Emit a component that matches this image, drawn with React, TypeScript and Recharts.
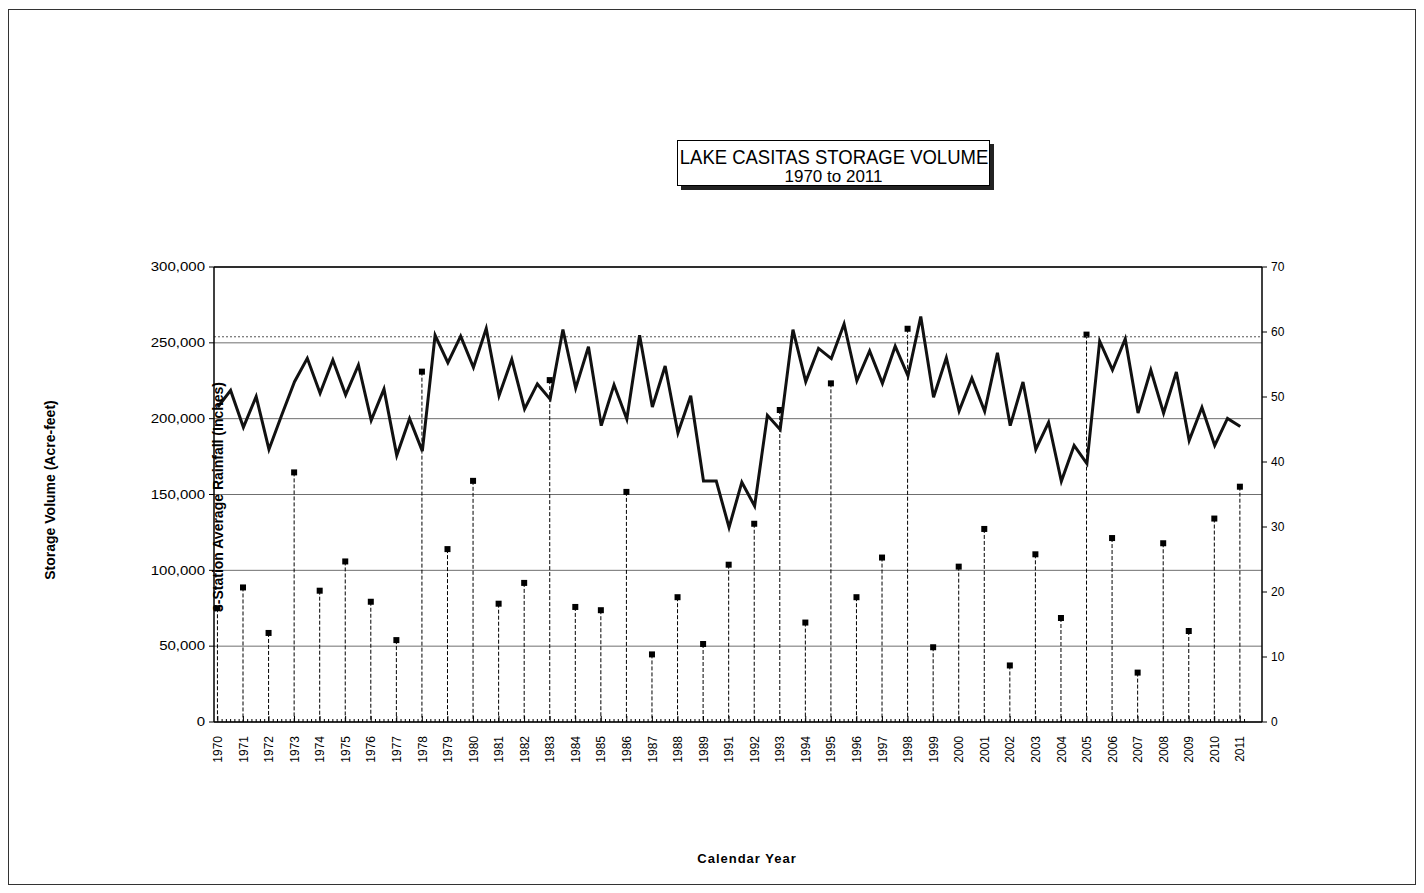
import React from "react";
import {
  ComposedChart,
  Line,
  Bar,
  XAxis,
  YAxis,
  CartesianGrid,
  ReferenceLine,
} from "recharts";

// category labels (1990 is missing on the original axis)
const years = [
  "1970", "1971", "1972", "1973", "1974", "1975", "1976", "1977", "1978", "1979",
  "1980", "1981", "1982", "1983", "1984", "1985", "1986", "1987", "1988", "1989",
  "1991", "1992", "1993", "1994", "1995", "1996", "1997", "1998", "1999", "2000",
  "2001", "2002", "2003", "2004", "2005", "2006", "2007", "2008", "2009", "2010",
  "2011",
];

// storage volume, acre-feet, two readings per year
const storage = [
  207700, 218600, 194300, 214600, 179700, 202400, 224400, 239800, 216800, 238700,
  215700, 235400, 198900, 219500, 175800, 200000, 178600, 255000, 236900, 254400,
  233800, 259400, 215100, 239100, 206400, 222900, 212900, 258800, 220100, 247400,
  195400, 222300, 199800, 255000, 207700, 234700, 190600, 215100, 158900, 158900,
  128300, 158100, 142400, 202200, 192800, 258700, 224400, 246300, 239600, 262400,
  225000, 244600, 223300, 247800, 228300, 267400, 214100, 240200, 205000, 226700,
  204800, 243400, 195400, 224200, 179700, 197600, 158700, 182300, 170300, 251100,
  232100, 252600, 203700, 232100, 203700, 230800, 185600, 207400, 182300, 200200,
  194800,
];

// 3-station average rainfall, inches, one per year
const rainfall = [
  17.5, 20.7, 13.7, 38.4, 20.2, 24.7, 18.5, 12.6, 53.9, 26.6,
  37.1, 18.2, 21.4, 52.6, 17.7, 17.2, 35.4, 10.4, 19.2, 12.0,
  24.2, 30.5, 48.0, 15.3, 52.1, 19.2, 25.3, 60.5, 11.5, 23.9,
  29.7, 8.7, 25.8, 16.0, 59.6, 28.3, 7.6, 27.5, 14.0, 31.3,
  36.2,
];

const storageTicks = [0, 50000, 100000, 150000, 200000, 250000, 300000];
const rainTicks = [0, 10, 20, 30, 40, 50, 60, 70];
const spillLevel = 254000;

const data = storage.map((v, i) => ({
  x: i / 2,
  storage: v,
  rain: i % 2 === 0 ? rainfall[i / 2] : null,
}));

// minor ticks along the year axis
const xTicks: number[] = [];
for (let i = 0; i <= years.length * 6 - 5; i++) xTicks.push(i / 6);

const FONT = "'Liberation Sans', Arial, sans-serif";

const YearTick = (props: any) => {
  const { x, y, payload } = props;
  const v = payload.value;
  const k = Math.round(v);
  const isYear = Math.abs(v - k) < 1e-6;
  return (
    <g>
      <line x1={x} y1={y} x2={x} y2={y - (isYear ? 6 : 3)} stroke="#000" strokeWidth={1} />
      {isYear && years[k] && (
        <text
          x={x}
          y={y + 14}
          transform={`rotate(-90 ${x} ${y + 14})`}
          textAnchor="end"
          dy="0.35em"
          fontSize={12}
          fontFamily={FONT}
          fill="#000"
        >
          {years[k]}
        </text>
      )}
    </g>
  );
};

const StorageTick = (props: any) => {
  const { x, y, payload } = props;
  return (
    <text
      transform={`translate(${x} ${y}) scale(1.25 1)`}
      textAnchor="end"
      dy="0.35em"
      fontSize={12}
      fontFamily={FONT}
      fill="#000"
    >
      {payload.value.toLocaleString("en-US")}
    </text>
  );
};

const RainMarker = (props: any) => {
  const { x, y, width, height, payload } = props;
  if (payload == null || payload.rain == null) return <g />;
  const cx = x + width / 2;
  return (
    <g>
      <line
        x1={cx}
        y1={y}
        x2={cx}
        y2={y + height}
        stroke="#000"
        strokeWidth={1}
        strokeDasharray="4 2"
      />
      <rect x={cx - 3} y={y - 3} width={6} height={6} fill="#000" />
    </g>
  );
};

const App: React.FC = () => {
  return (
    <div
      style={{
        position: "absolute",
        left: 0,
        top: 0,
        width: 1424,
        height: 893,
        background: "#fff",
        fontFamily: FONT,
      }}
    >
      <div
        style={{
          position: "absolute",
          left: 8,
          top: 9,
          width: 1406,
          height: 874,
          border: "1px solid #333",
        }}
      />
      <div
        style={{
          position: "absolute",
          left: 677,
          top: 140,
          width: 311,
          height: 44,
          border: "1px solid #000",
          boxShadow: "4px 4px 0 #222",
          background: "#fff",
          textAlign: "center",
          whiteSpace: "nowrap",
        }}
      >
        <div
          style={{
            width: 400,
            marginLeft: -44.5,
            fontSize: 21,
            lineHeight: "22px",
            marginTop: 5,
            transform: "scaleX(0.88)",
          }}
        >
          LAKE CASITAS STORAGE VOLUME
        </div>
        <div style={{ fontSize: 17, lineHeight: "18px" }}>1970 to 2011</div>
      </div>

      <ComposedChart
        width={1424}
        height={893}
        data={data}
        margin={{ top: 267, right: 122, bottom: 101, left: 154 }}
      >
        <CartesianGrid
          yAxisId="left"
          vertical={false}
          stroke="#6f6f6f"
          strokeWidth={1}
        />
        <XAxis
          dataKey="x"
          type="number"
          domain={[-0.15, 40.85]}
          ticks={xTicks}
          interval={0}
          allowDataOverflow
          tickLine={false}
          tickSize={0}
          tickMargin={0}
          height={70}
          axisLine={{ stroke: "#000", strokeWidth: 1.5 }}
          tick={<YearTick />}
        />
        <YAxis
          yAxisId="left"
          domain={[0, 300000]}
          ticks={storageTicks}
          width={60}
          tickSize={5}
          tickMargin={4}
          axisLine={{ stroke: "#000", strokeWidth: 1.5 }}
          tickLine={{ stroke: "#000" }}
          tick={<StorageTick />}
        />
        <YAxis
          yAxisId="right"
          orientation="right"
          domain={[0, 70]}
          ticks={rainTicks}
          width={40}
          tickSize={5}
          tickMargin={4}
          axisLine={{ stroke: "#000", strokeWidth: 1.5 }}
          tickLine={{ stroke: "#000" }}
          tick={{ fontSize: 12, fill: "#000", fontFamily: FONT }}
        />
        <ReferenceLine yAxisId="left" y={300000} stroke="#000" strokeWidth={1.5} />
        <ReferenceLine
          yAxisId="left"
          y={spillLevel}
          stroke="#555"
          strokeDasharray="2 2"
        />
        <Bar
          yAxisId="right"
          dataKey="rain"
          barSize={6}
          shape={RainMarker}
          isAnimationActive={false}
        />
        <Line
          yAxisId="left"
          type="linear"
          dataKey="storage"
          stroke="#111"
          strokeWidth={3}
          dot={false}
          isAnimationActive={false}
        />
      </ComposedChart>

      <div
        style={{
          position: "absolute",
          left: 50,
          top: 490,
          transform: "translate(-50%, -50%) rotate(-90deg)",
          whiteSpace: "nowrap",
          fontSize: 14,
          fontWeight: "bold",
        }}
      >
        Storage Volume (Acre-feet)
      </div>
      <div
        style={{
          position: "absolute",
          left: 218,
          top: 497,
          transform: "translate(-50%, -50%) rotate(-90deg)",
          whiteSpace: "nowrap",
          fontSize: 14,
          fontWeight: "bold",
        }}
      >
        3-Station Average Rainfall (Inches)
      </div>
      <div
        style={{
          position: "absolute",
          left: 747,
          top: 858,
          transform: "translate(-50%, -50%)",
          whiteSpace: "nowrap",
          fontSize: 13,
          letterSpacing: 1,
          fontWeight: "bold",
        }}
      >
        Calendar Year
      </div>
    </div>
  );
};

export default App;
